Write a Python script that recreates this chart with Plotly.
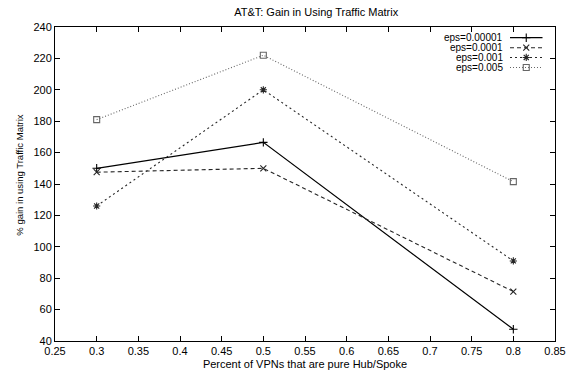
import plotly.graph_objects as go

# Share of VPNs that are pure hub/spoke
x_vals = [0.3, 0.5, 0.8]

# % gain in using the traffic matrix, per epsilon
series_names = ["eps=0.00001", "eps=0.0001", "eps=0.001", "eps=0.005"]
gain_1e5 = [150, 166.5, 47.5]
gain_1e4 = [147.5, 150, 71.5]
gain_1e3 = [126, 200, 91]
gain_5e3 = [181, 222, 141.5]
series_values = [gain_1e5, gain_1e4, gain_1e3, gain_5e3]

x_ticks = [0.25, 0.3, 0.35, 0.4, 0.45, 0.5, 0.55, 0.6, 0.65, 0.7, 0.75, 0.8, 0.85]
y_ticks = [40, 60, 80, 100, 120, 140, 160, 180, 200, 220, 240]

styles = [
    dict(color="#000000", dash="solid", symbol="cross-thin-open", width=1.2),
    dict(color="#262626", dash="4px,3px", symbol="x-thin-open", width=1.1),
    dict(color="#262626", dash="2px,3px", symbol="asterisk-open", width=1.1),
    dict(color="#666666", dash="1px,2px", symbol="square-open", width=1.1),
]

FONT = "Liberation Sans, Arial, sans-serif"

fig = go.Figure()
for name, vals, st in zip(series_names, series_values, styles):
    fig.add_trace(go.Scatter(
        x=x_vals, y=vals, name=name, mode="lines+markers",
        line=dict(color=st["color"], dash=st["dash"], width=st["width"]),
        marker=dict(symbol=st["symbol"], size=6, color=st["color"],
                    line=dict(color=st["color"], width=1.1)),
        showlegend=False,
    ))

# Key in the upper-right corner: label on the left, line sample on the right
key_rows = [0.966, 0.934, 0.903, 0.871]
for name, st, ky in zip(series_names, styles, key_rows):
    fig.add_trace(go.Scatter(
        x=[0.91, 0.9425, 0.975], y=[ky, ky, ky],
        xaxis="x2", yaxis="y2", mode="lines",
        line=dict(color=st["color"], dash=st["dash"], width=st["width"]),
        hoverinfo="skip", showlegend=False,
    ))
    fig.add_trace(go.Scatter(
        x=[0.9425], y=[ky], xaxis="x2", yaxis="y2", mode="markers",
        marker=dict(symbol=st["symbol"], size=6, color=st["color"],
                    line=dict(color=st["color"], width=1.1)),
        hoverinfo="skip", showlegend=False,
    ))
    fig.add_annotation(
        x=0.897, y=ky, xref="x2", yref="y2", text=name, showarrow=False,
        xanchor="right", yanchor="middle", borderpad=0,
        font=dict(family=FONT, size=10, color="#000"),
    )

# Vertical axis label, placed as a rotated annotation
fig.add_annotation(
    x=-0.0705, y=0.529, xref="paper", yref="paper",
    text="% gain in using Traffic Matrix", textangle=-90, showarrow=False,
    xanchor="center", yanchor="middle",
    font=dict(family=FONT, size=9.5, color="#000"),
)

axis_common = dict(
    showline=True, linecolor="#000", linewidth=1, mirror="ticks",
    ticks="inside", ticklen=5, tickcolor="#000", tickwidth=1,
    showgrid=False, zeroline=False,
    tickfont=dict(family=FONT, size=11, color="#000"),
)

fig.update_layout(
    width=578, height=381,
    margin=dict(l=55, r=12, t=27, b=40),
    paper_bgcolor="white", plot_bgcolor="white",
    title=dict(text="AT&T: Gain in Using Traffic Matrix", x=0.547, xanchor="center",
               y=0.968, yanchor="middle",
               font=dict(family=FONT, size=11, color="#000")),
    xaxis=dict(range=[0.25, 0.85], tickvals=x_ticks,
               ticktext=[f"{v:g}" for v in x_ticks],
               title=dict(text="Percent of VPNs that are pure Hub/Spoke", standoff=4,
                          font=dict(family=FONT, size=11, color="#000")),
               **axis_common),
    yaxis=dict(range=[40, 240], tickvals=y_ticks, **axis_common),
    xaxis2=dict(range=[0, 1], overlaying="x", visible=False, fixedrange=True),
    yaxis2=dict(range=[0, 1], overlaying="y", visible=False, fixedrange=True),
    showlegend=False,
)

fig.write_html("out.html")
